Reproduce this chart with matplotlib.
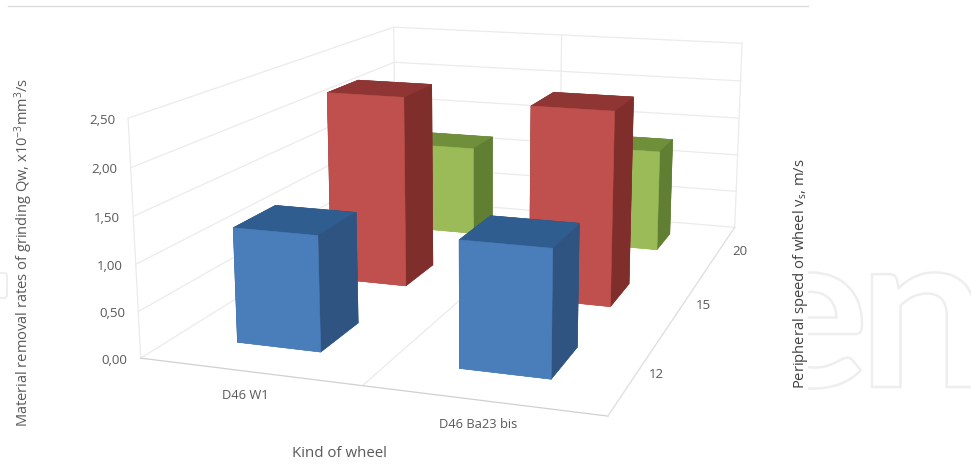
import numpy as np
import matplotlib
matplotlib.use("Agg")
import matplotlib.pyplot as plt
from matplotlib.font_manager import FontProperties
from matplotlib.patches import PathPatch, FancyBboxPatch, Rectangle
from matplotlib.textpath import TextPath
from matplotlib.transforms import Affine2D, offset_copy

plt.rcParams["font.family"] = "Open Sans"
plt.rcParams["mathtext.default"] = "regular"

wheels = ["D46 W1", "D46 Ba23 bis"]
speeds = ["12", "15", "20"]
z_ticks = [0.0, 0.5, 1.0, 1.5, 2.0, 2.5]
z_tick_labels = ["0,00", "0,50", "1,00", "1,50", "2,00", "2,50"]

qw_12 = [1.25, 1.34]
qw_15 = [2.26, 2.25]
qw_20 = [1.15, 1.28]

W, H = 971, 469
TEXT = "#595959"
GRID = "#ebebeb"
EDGE = "#d0d0d0"
WMARK = "#eeeeee"

fig = plt.figure(figsize=(W / 100, H / 100), dpi=100)

# pale outlined lettering behind the plot, covered up to x=808
bg = fig.add_axes([0, 0, 1, 1], zorder=0)
bg.set_xlim(0, W)
bg.set_ylim(0, H)
bg.axis("off")
fp = FontProperties(family="Lato", weight="bold")
for letter, left, right in [("e", None, 862), ("n", 872, None)]:
    tp = TextPath((0, 0), letter, size=220, prop=fp)
    tp = tp.transformed(Affine2D().scale(1.05, 1))
    ext = tp.get_extents()
    dx = left - ext.x0 if left is not None else right - ext.x1
    path = tp.transformed(Affine2D().translate(dx, H - 387))
    bg.add_patch(PathPatch(path, fc="white", ec=WMARK, lw=1.8, zorder=1))
bg.add_patch(Rectangle((8, 0), 800, H, fc="white", ec="none", zorder=2))
bg.add_patch(FancyBboxPatch((-20, H - 298), 27, 25, boxstyle="round,pad=0,rounding_size=3",
                            fc="white", ec=WMARK, lw=1.4, zorder=2))
bg.plot([8, 808], [H - 6, H - 6], color="#dedede", lw=1, zorder=3)

ax = fig.add_subplot(projection="3d", computed_zorder=False, zorder=1)
ax.set_xlim(0, 2)
ax.set_ylim(0, 3)
ax.set_zlim(0, 2.5)
ax.view_init(elev=13.3253, azim=-71.4605, roll=-0.0331)
ax.set_proj_type("persp", focal_length=0.3827)
ax.set_box_aspect((1.9644, 2.8435, 1))
ax.set_axis_off()
ax.patch.set_visible(False)

# scale and origin of the projected coordinates, in pixels
S, S_X, S_Y = 4040.0766, 478.5352, -181.2617
vx0, vx1 = ax.viewLim.intervalx
vy0, vy1 = ax.viewLim.intervaly
ax.set_position([(S_X + S * vx0) / W, (H + S_Y + S * vy0) / H,
                 S * (vx1 - vx0) / W, S * (vy1 - vy0) / H])

# walls and floor
for z in z_ticks:
    ax.plot([0, 0, 2], [0, 3, 3], [z, z, z], color=GRID, lw=0.9, zorder=1)
ax.plot([0, 0], [0, 0], [0, 2.5], color=GRID, lw=0.9, zorder=1)
ax.plot([0, 0], [3, 3], [0, 2.5], color=GRID, lw=0.9, zorder=1)
ax.plot([1, 1], [3, 3], [0, 2.5], color=GRID, lw=0.9, zorder=1)
ax.plot([2, 2], [3, 3], [0, 2.5], color=GRID, lw=0.9, zorder=1)
ax.plot([1, 1], [0, 3], [0, 0], color=GRID, lw=0.9, zorder=1)
ax.plot([0, 2], [0, 0], [0, 0], color=EDGE, lw=0.9, zorder=1)
ax.plot([2, 2], [0, 3], [0, 0], color="#e0e0e0", lw=1.0, zorder=1)

# face order of bar3d: bottom, top, -y, +y, -x, +x
blue = ["#4a7ebb", "#305d8f", "#4a7ebb", "#2f5481", "#2f5481", "#2f5481"]
red = ["#c0504d", "#8f3533", "#c0504d", "#7f2e2c", "#7f2e2c", "#7f2e2c"]
green = ["#9bbb59", "#6f8f3b", "#9bbb59", "#617f33", "#617f33", "#617f33"]

bar_x = [0.29, 1.30]
rows = [(qw_20, 2.40, 0.34, green, 3), (qw_15, 1.35, 0.39, red, 4), (qw_12, 0.32, 0.42, blue, 5)]
for values, y0, depth, colors, z in rows:
    for x0, v in zip(bar_x, values):
        ax.bar3d(x0, y0, 0, 0.39, depth, v, color=colors, edgecolors=colors,
                 linewidths=0.4, shade=False, zorder=z)

# tick labels, shifted off the box edges by a fixed number of pixels
z_trans = offset_copy(ax.transData, fig=fig, x=-13, y=-2, units="dots")
for z, lab in zip(z_ticks, z_tick_labels):
    ax.text(0, 0, z, lab, transform=z_trans, ha="right", va="center",
            fontsize=9.5, color=TEXT, zorder=6)
x_trans = offset_copy(ax.transData, fig=fig, x=-4, y=-24, units="dots")
for i, lab in enumerate(wheels):
    ax.text(i + 0.5, 0, 0, lab, transform=x_trans, ha="center", va="center",
            fontsize=9.3, color=TEXT, zorder=6)
y_trans = offset_copy(ax.transData, fig=fig, x=20, y=-1, units="dots")
for i, lab in enumerate(speeds):
    ax.text(2, i + 0.5, 0, lab, transform=y_trans, ha="center", va="center",
            fontsize=9.5, color=TEXT, zorder=6)

fig.text(339 / W, 1 - 453 / H, "Kind of wheel", ha="center", va="center",
         fontsize=10.8, color=TEXT, zorder=5)
fig.text(24 / W, 1 - 252 / H, r"Material removal rates of grinding Qw, x10$^{-3}$mm$^{3}$/s",
         rotation=90, ha="center", va="center", fontsize=10.5, color=TEXT, zorder=5)
fig.text(800 / W, 1 - 274 / H, r"Peripheral speed of wheel v$_{s}$, m/s",
         rotation=90, ha="center", va="center", fontsize=10.6, color="#404040", zorder=5)

fig.savefig("out.png", dpi=100)
